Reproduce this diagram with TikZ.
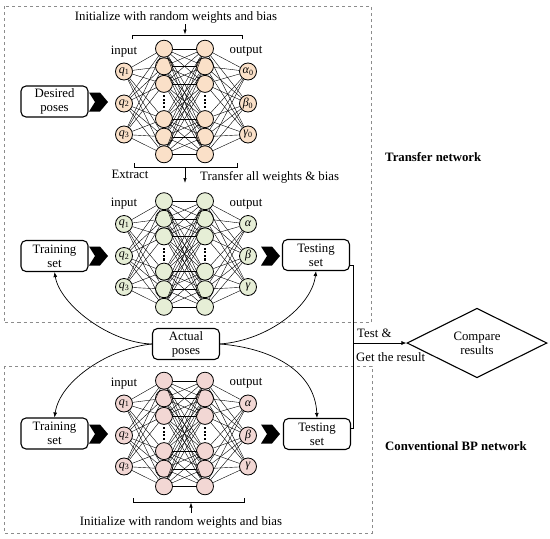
\documentclass[tikz,border=0pt]{standalone}
\usepackage{fontspec}
\setmainfont{Liberation Serif}
\usetikzlibrary{arrows.meta,shapes.geometric,calc}
\definecolor{peachc}{RGB}{250,224,200}
\definecolor{greenc}{RGB}{230,238,214}
\definecolor{pinkc}{RGB}{242,215,212}
\definecolor{framec}{RGB}{140,140,140}
\tikzset{
  neuron/.style={circle,draw,line width=0.8pt,minimum size=17pt,inner sep=0pt,font=\fontsize{12}{12}\selectfont},
  edge/.style={line width=0.4pt},
  boxn/.style={draw,rounded corners=5pt,line width=1.1pt,minimum width=67pt,minimum height=31pt,align=center,inner sep=1pt,font=\fontsize{12.8}{14}\selectfont},
  lbl/.style={font=\fontsize{12.8}{14}\selectfont,inner sep=0pt},
  blbl/.style={font=\fontsize{12.8}{14}\selectfont\bfseries,inner sep=0pt,anchor=west},
  framebox/.style={draw=framec,dashed,line width=0.8pt},
  arr/.style={-{Latex[length=5pt,width=4pt]},line width=0.7pt},
  plain/.style={line width=0.9pt}
}
% #1 prefix, #2 center y, #3 fill, #4 #5 #6 output labels
\newcommand{\mynet}[6]{%
  \node[neuron,fill=#3] (#1i1) at (124,#2-30) {\textit{q}\textsubscript{1}};
  \node[neuron,fill=#3] (#1i2) at (124,#2+2) {\textit{q}\textsubscript{2}};
  \node[neuron,fill=#3] (#1i3) at (124,#2+33) {\textit{q}\textsubscript{3}};
  \foreach \k/\n in {0/1,1/2,2/3,4/4,5/5,6/6}{
    \node[neuron,fill=#3] (#1a\n) at (164,#2+17.6*\k-52.8) {};
    \node[neuron,fill=#3] (#1b\n) at (205,#2+17.6*\k-52.8) {};
  }
  \node[neuron,fill=#3] (#1o1) at (248,#2-30) {#4};
  \node[neuron,fill=#3] (#1o2) at (248,#2+2) {#5};
  \node[neuron,fill=#3] (#1o3) at (248,#2+33) {#6};
  \foreach \i in {1,2,3}{\foreach \j in {1,...,6}{
    \draw[edge] (#1i\i) -- (#1a\j);
    \draw[edge] (#1b\j) -- (#1o\i);}}
  \foreach \i in {1,...,6}{\foreach \j in {1,...,6}{
    \draw[edge] (#1a\i) -- (#1b\j);}}
  \foreach \xx in {164,205}{
    \foreach \d in {-5.4,-1.8,1.8,5.4}{
      \fill (\xx-1.2,#2+\d-1.1) rectangle (\xx+1.2,#2+\d+1.1);}}
  \node[lbl] (#1lin) at (124,#2-50) {input};
  \node[lbl] (#1lout) at (246,#2-50) {output};
}
\newcommand{\chevron}[2]{%
  \fill (#1,#2-9.5) -- ++(11,0) -- ++(8,9.5) -- ++(-8,9.5) -- ++(-11,0) -- ++(6,-9.5) -- cycle;}
\begin{document}
\begin{tikzpicture}[x=1pt,y=-1pt]
\useasboundingbox (0,0) rectangle (550,539);
% frames
\draw[framebox] (4,6) rectangle (371,322.5);
\draw[framebox] (4,366) rectangle (372,533);
% networks
\mynet{t}{101.5}{peachc}{\textit{α}\textsubscript{0}}{\textit{β}\textsubscript{0}}{\textit{γ}\textsubscript{0}}
\mynet{m}{254}{greenc}{\textit{α}}{\textit{β}}{\textit{γ}}
\mynet{c}{433.5}{pinkc}{\textit{α}}{\textit{β}}{\textit{γ}}
% brackets and texts
\node[lbl] (tinit) at (176,17) {Initialize with random weights and bias};
\coordinate (tarr1) at (185,24);
\coordinate (tbr1) at (185,34.5);
\draw[plain] (132,38.5) -- (132,35) -- (242,35) -- (242,38.5);
\draw[-{Latex[length=5pt,width=3.5pt]},line width=0.7pt] (tarr1) -- (tbr1);
\draw[plain] (134,163) -- (134,167) -- (237,167) -- (237,163);
\coordinate (tbr2) at (185,167.5);
\coordinate (tarr2) at (185,183);
\draw[-{Latex[length=5pt,width=3.5pt]},line width=0.7pt] (tbr2) -- (tarr2);
\node[lbl] (extr) at (130,174.5) {Extract};
\node[lbl,anchor=west] (trans) at (200,177) {Transfer all weights \& bias};
\draw[plain] (133,498) -- (133,502) -- (244,502) -- (244,498);
\coordinate (cbr) at (191,502.5);
\coordinate (carr) at (191,513);
\draw[-{Latex[length=5pt,width=3.5pt]},line width=0.7pt] (carr) -- (cbr);
\node[lbl] (cinit) at (181,522) {Initialize with random weights and bias};
% boxes
\node[boxn] (des) at (54.5,101.5) {Desired\\poses};
\node[boxn] (trn1) at (54.5,256) {Training\\set};
\node[boxn] (tst1) at (316,255) {Testing\\set};
\node[boxn] (act) at (186,344) {Actual\\poses};
\node[boxn] (trn2) at (54.5,433.5) {Training\\set};
\node[boxn] (tst2) at (317,434) {Testing\\set};
% chevrons
\chevron{89}{102}
\chevron{89}{256}
\chevron{89}{434}
\chevron{261}{256}
\chevron{261}{434}
% curves
\draw[arr] (act.west) .. controls (110,343) and (60,305) .. (trn1.south);
\draw[arr] (act.west) .. controls (110,348) and (60,380) .. (trn2.north);
\draw[arr] (act.east) .. controls (270,340) and (312,305) .. (tst1.south);
\draw[arr] (act.east) .. controls (270,348) and (315,370) .. (tst2.north);
% compare
\node[diamond,draw,line width=1.1pt,minimum width=140pt,minimum height=52pt,inner sep=0pt,align=center,font=\fontsize{12.8}{14}\selectfont] (cmp) at (477,343) {Compare\\results};
\coordinate (j1) at (353,265);
\coordinate (j2) at (353,428);
\coordinate (j3) at (353,343);
\draw[line width=0.8pt] (tst1.east |- j1) -- (j1) -- (j2) -- (tst2.east |- j2);
\draw[arr] (j3) -- (cmp.west);
\node[lbl,anchor=west] (testt) at (357,333) {Test \&};
\node[lbl,anchor=west] (gett) at (356,357) {Get the result};
% side labels
\node[blbl] (tnet) at (385,157) {Transfer network};
\node[blbl] (cnet) at (385,446) {Conventional BP network};
\end{tikzpicture}
\end{document}
